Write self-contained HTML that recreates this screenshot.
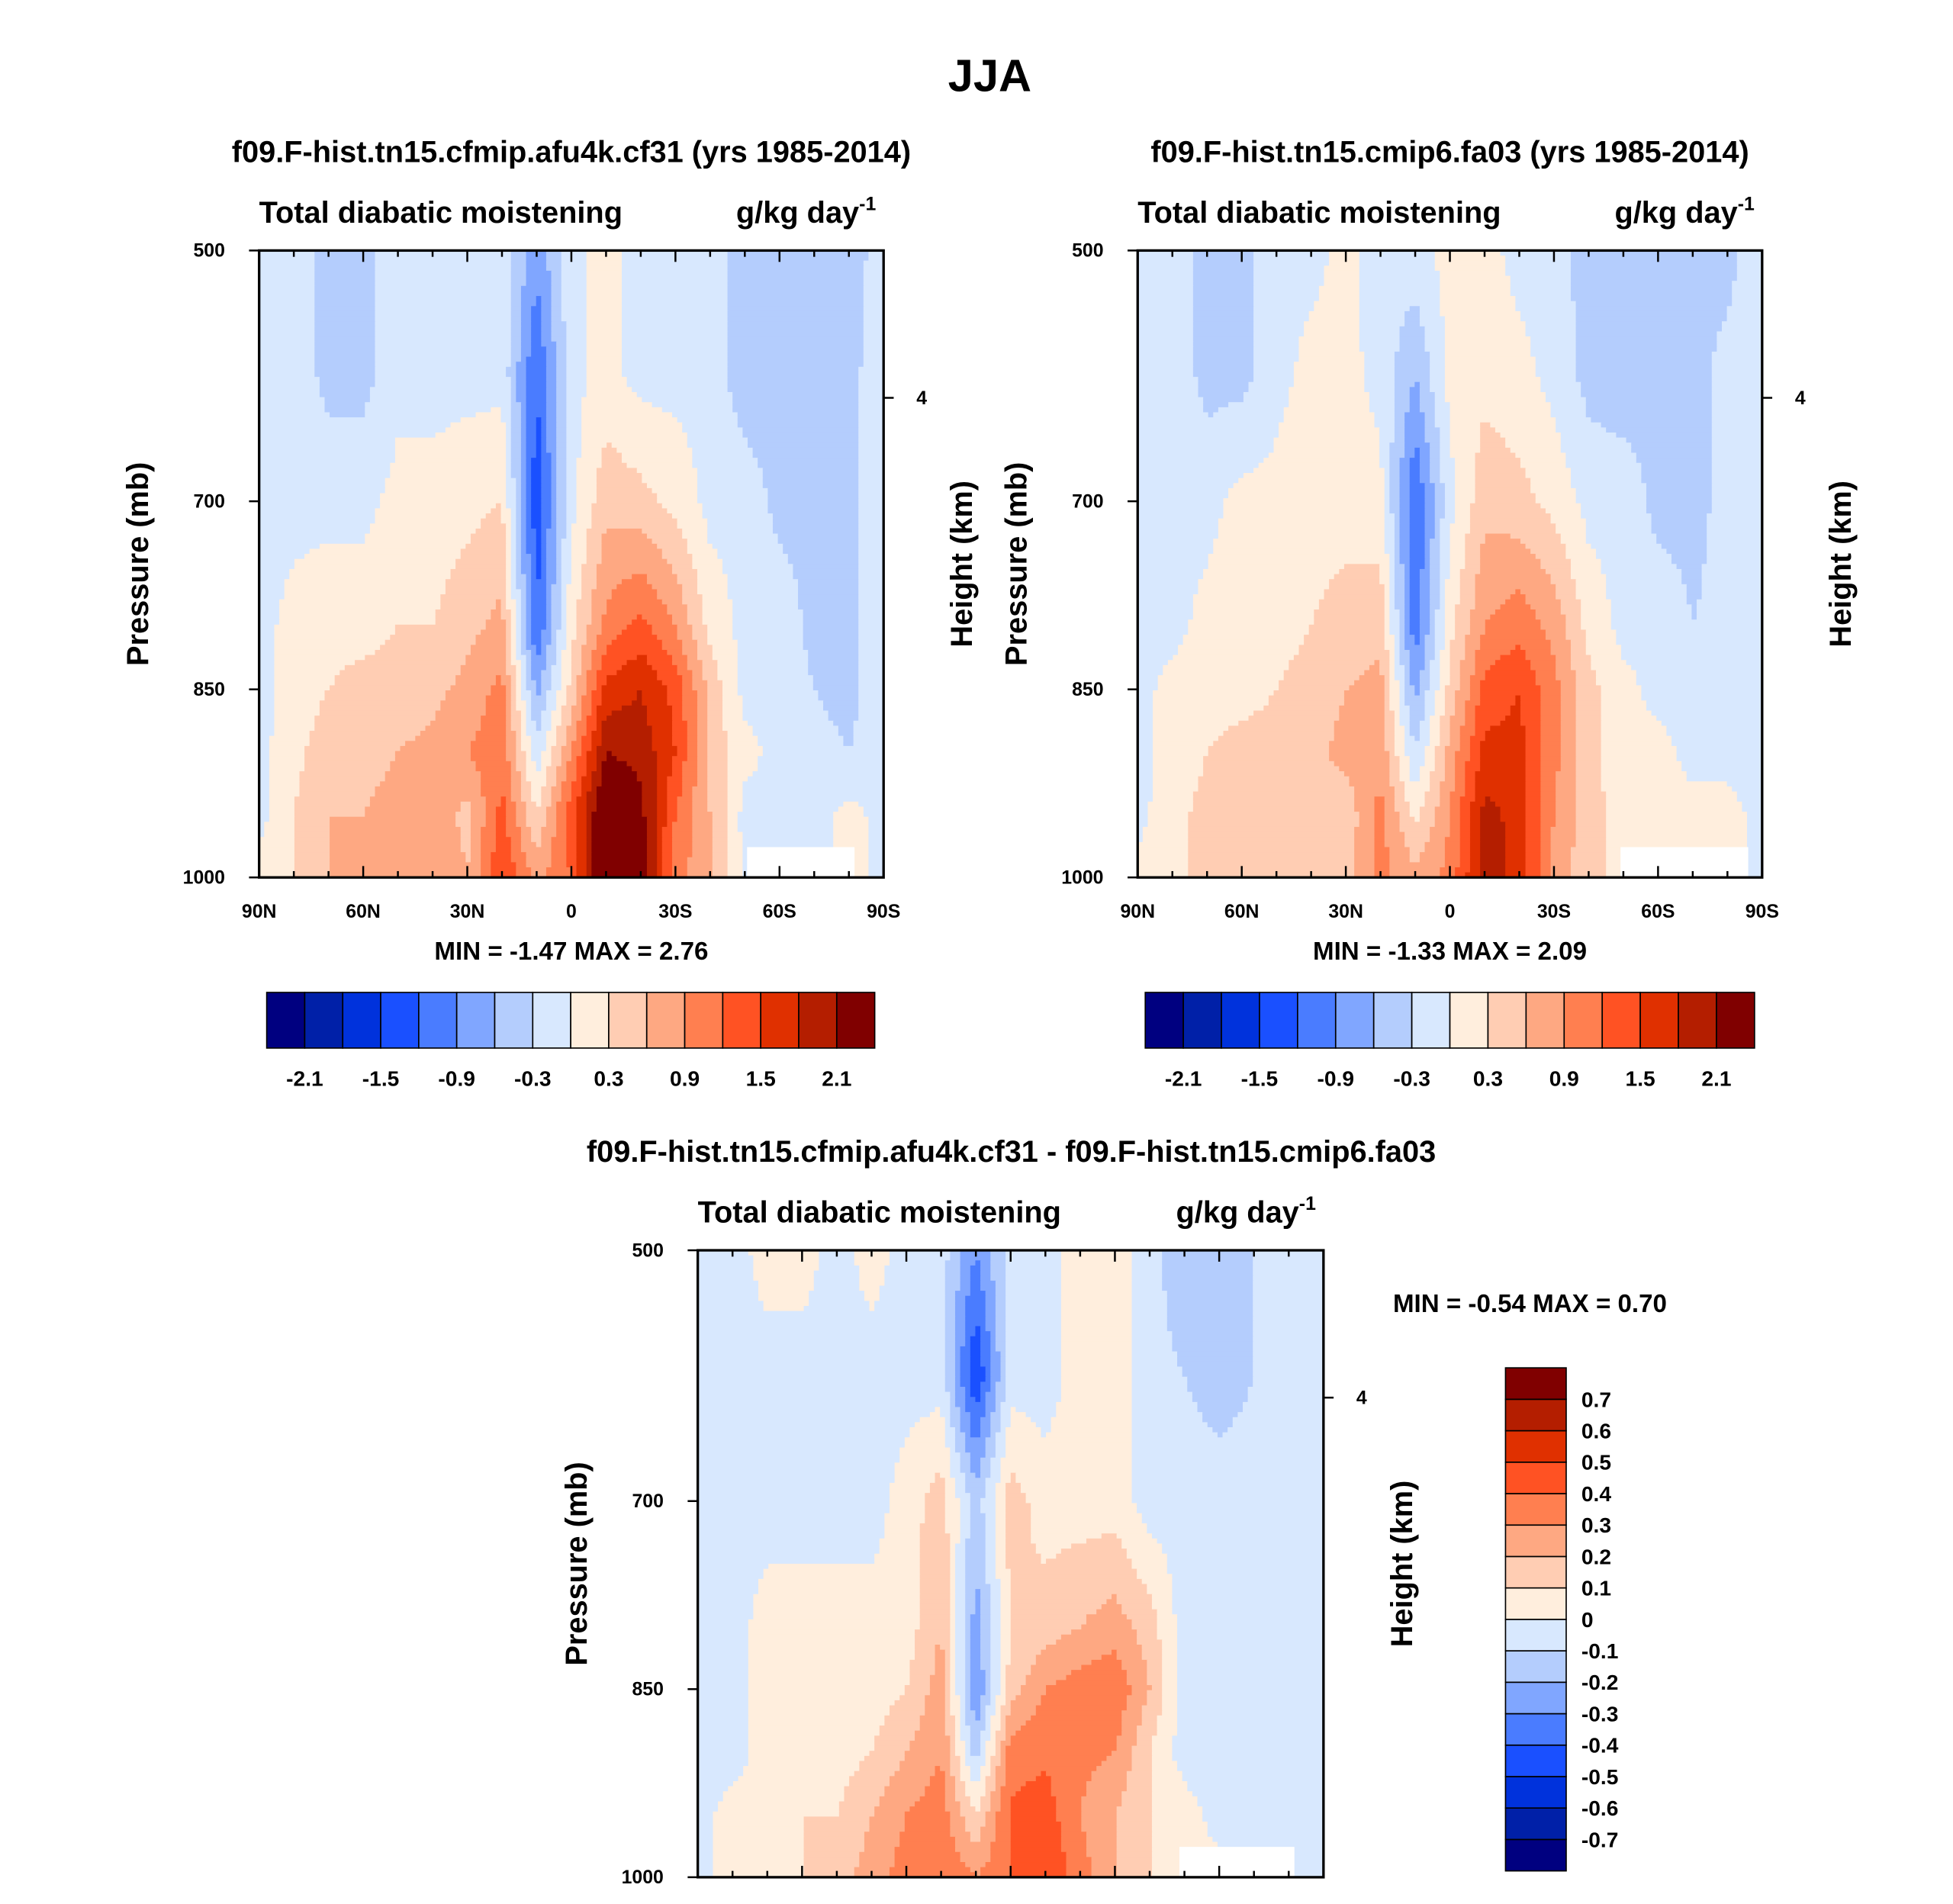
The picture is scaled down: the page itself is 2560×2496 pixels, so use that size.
<!DOCTYPE html>
<html><head><meta charset="utf-8">
<style>
html,body{margin:0;padding:0;background:#fff;}
svg{display:block;}
text{font-family:"Liberation Sans",sans-serif;font-weight:bold;fill:#000;}
</style></head>
<body>
<svg id="chart" width="2560" height="2496" viewBox="0 0 1545 1506" xmlns="http://www.w3.org/2000/svg">
<rect width="1545" height="1506" fill="#fff"/>
<text x="783" y="72" font-size="36" text-anchor="middle">JJA</text>
<g id="root"></g>
</svg>
<script>
const lats = [90,80,70,60,50,40,30,20,10,0,-10,-20,-30,-40,-50,-60,-70,-80,-90];
const plevs = [500,600,700,800,850,900,950,1000];
const field1 = [
[-0.1,-0.1,-0.4,-0.4,-0.1,-0.1,-0.2,-0.1,-0.8,-0.1,0.1,-0.1,-0.1,-0.1,-0.5,-0.5,-0.5,-0.5,-0.1],
[-0.1,-0.1,-0.4,-0.4,-0.1,-0.1,-0.1,-0.1,-1.2,-0.1,0.1,-0.1,-0.1,-0.1,-0.5,-0.5,-0.5,-0.4,-0.1],
[-0.1,-0.1,-0.1,-0.1,0.1,0.1,0.2,0.3,-1.4,-0.1,0.5,0.4,0.2,-0.1,-0.1,-0.4,-0.4,-0.4,-0.1],
[-0.1,0.1,0.2,0.2,0.3,0.3,0.5,0.7,-1.2,0.2,1.0,1.3,0.9,0.2,-0.1,-0.1,-0.4,-0.4,-0.1],
[-0.1,0.1,0.3,0.4,0.4,0.5,0.7,1.0,-0.7,0.4,1.6,1.8,1.4,0.5,-0.1,-0.1,-0.3,-0.4,-0.1],
[-0.1,0.2,0.5,0.5,0.6,0.7,0.9,1.1,-0.2,0.9,2.1,2.0,1.5,0.5,0.1,-0.1,-0.2,-0.3,-0.1],
[-0.1,0.3,0.6,0.6,0.7,0.8,0.5,1.3,0.3,1.4,2.5,2.2,1.2,0.6,-0.1,-0.1,-0.1,0.1,-0.1],
[0.1,0.3,0.6,0.7,0.8,0.9,0.6,1.5,0.8,1.2,2.7,2.4,1.0,0.7,-0.1,-0.1,-0.1,0.1,-0.1]];
const field2 = [
[-0.1,-0.1,-0.4,-0.4,-0.1,-0.1,0.1,-0.2,-0.1,0.1,0.1,-0.1,-0.1,-0.5,-0.5,-0.5,-0.4,-0.4,-0.1],
[-0.1,-0.1,-0.4,-0.4,-0.1,0.1,0.1,-0.1,-0.6,0.1,0.2,0.1,-0.1,-0.4,-0.5,-0.4,-0.4,-0.2,-0.1],
[-0.1,-0.1,-0.1,0.1,0.1,0.2,0.2,0.1,-1.2,-0.1,0.5,0.4,0.2,-0.1,-0.1,-0.4,-0.4,-0.2,-0.1],
[-0.1,-0.1,0.1,0.2,0.2,0.3,0.4,0.5,-1.1,0.2,0.9,1.1,0.8,0.2,-0.1,-0.1,-0.3,-0.2,-0.1],
[-0.1,0.1,0.2,0.2,0.3,0.4,0.6,0.7,-0.7,0.4,1.3,1.5,1.0,0.4,0.1,-0.1,-0.1,-0.1,-0.1],
[-0.1,0.1,0.3,0.4,0.4,0.5,0.7,0.8,-0.3,0.7,1.6,1.6,1.0,0.4,0.1,0.1,-0.1,-0.1,-0.1],
[-0.1,0.2,0.4,0.5,0.5,0.6,0.4,1.0,0.2,0.9,1.9,1.7,0.9,0.4,0.2,0.1,0.1,0.1,-0.1],
[0.1,0.2,0.4,0.4,0.5,0.6,0.5,1.0,0.7,1.0,2.0,1.7,0.8,0.4,0.2,0.1,0.1,0.1,-0.1]];
const field3 = [
[-0.05,-0.05,0.05,0.05,-0.05,0.05,-0.05,-0.05,-0.3,-0.05,-0.05,0.05,0.05,-0.05,-0.2,-0.2,-0.1,-0.05,-0.05],
[-0.05,-0.05,-0.05,-0.05,-0.05,-0.05,-0.05,-0.05,-0.5,-0.05,-0.05,0.05,0.05,-0.05,-0.1,-0.15,-0.1,-0.05,-0.05],
[-0.05,-0.05,-0.05,-0.05,-0.05,-0.05,0.05,0.15,-0.15,0.15,0.05,0.05,0.05,-0.05,-0.05,-0.05,-0.05,-0.05,-0.05],
[-0.05,-0.05,0.05,0.05,0.05,0.05,0.05,0.2,-0.25,0.1,0.15,0.2,0.25,0.15,-0.05,-0.05,-0.05,-0.05,-0.05],
[-0.05,-0.05,0.05,0.05,0.05,0.05,0.1,0.25,-0.3,0.15,0.3,0.35,0.38,0.2,-0.05,-0.05,-0.05,-0.05,-0.05],
[-0.05,-0.05,0.05,0.05,0.05,0.1,0.2,0.3,-0.15,0.35,0.38,0.33,0.3,0.1,-0.05,-0.05,-0.05,-0.05,-0.05],
[-0.05,0.05,0.05,0.1,0.1,0.2,0.3,0.35,0.1,0.42,0.45,0.3,0.2,0.1,0.05,-0.05,-0.1,-0.05,-0.05],
[-0.05,0.05,0.05,0.1,0.15,0.25,0.35,0.4,0.3,0.4,0.5,0.35,0.2,0.1,0.05,0.05,-0.05,-0.05,-0.05]];
const levelsAbs = [-2.1,-1.8,-1.5,-1.2,-0.9,-0.6,-0.3,0,0.3,0.6,0.9,1.2,1.5,1.8,2.1];
const levelsDiff = [-0.7,-0.6,-0.5,-0.4,-0.3,-0.2,-0.1,0,0.1,0.2,0.3,0.4,0.5,0.6,0.7];
const absLabels = ["-2.1","-1.5","-0.9","-0.3","0.3","0.9","1.5","2.1"];
const diffLabels = ["0.7","0.6","0.5","0.4","0.3","0.2","0.1","0","-0.1","-0.2","-0.3","-0.4","-0.5","-0.6","-0.7"];
const latTicks = [90,60,30,0,-30,-60,-90];
const latTickLabels = ["90N","60N","30N","0","30S","60S","90S"];
const pTicks = [500,700,850,1000];
const colors = ["#000080","#0020a8","#0032dc","#1a50ff","#4a7cff","#80a6ff","#b4cdfd","#d8e8fe","#ffeedd","#ffcdb3","#fea882","#ff7f50","#ff5223","#e03000","#b41e00","#800000"];

const NS="http://www.w3.org/2000/svg";
const root=document.getElementById('root');
function mk(tag,attrs,parent,txt){const e=document.createElementNS(NS,tag);for(const k in attrs)e.setAttribute(k,attrs[k]);if(txt!==undefined)e.textContent=txt;(parent||root).appendChild(e);return e;}
function colorFor(v,lv){let i=0;while(i<lv.length&&v>=lv[i])i++;return colors[i];}

function sample(field,lat,p){
  let li=0;while(li<lats.length-2&&lat<lats[li+1])li++;
  const tl=(lats[li]-lat)/(lats[li]-lats[li+1]);
  let pi=0;while(pi<plevs.length-2&&p>plevs[pi+1])pi++;
  const tp=(p-plevs[pi])/(plevs[pi+1]-plevs[pi]);
  const a=field[pi][li],b=field[pi][li+1],c=field[pi+1][li],d=field[pi+1][li+1];
  return (a*(1-tl)+b*tl)*(1-tp)+(c*(1-tl)+d*tl)*tp;
}

function panel(cfg){
  const {x0,y0,w,h,field,levels,name,white}=cfg;
  const g=mk('g',{});
  
  
  const xs=lat=>x0+(90-lat)/180*w;
  const ys=p=>y0+(p-500)/500*h;
  const N=124,cw=w/N,ch=h/N;
  for(let j=0;j<N;j++){
    const p=500+(j+0.5)/N*500;
    let start=0,cur=null;
    for(let i=0;i<=N;i++){
      let col=null;
      if(i<N){const lat=90-(i+0.5)/N*180;col=colorFor(sample(field,lat,p),levels);}
      if(col!==cur){
        if(cur!==null){const r=mk('rect',{x:(x0+start*cw).toFixed(2),y:(y0+j*ch).toFixed(2),width:((i-start)*cw+0.6).toFixed(2),height:(ch+0.6).toFixed(2),fill:cur},g);
          
          }
        cur=col;start=i;
      }
    }
  }
  const wr=mk('rect',{x:white[0],y:white[1],width:white[2],height:white[3],fill:'#fff'},g);
  
  
  const fr=mk('rect',{x:x0,y:y0,width:w,height:h,fill:'none',stroke:'#000','stroke-width':2},g);
  
  
  for(let lat=90;lat>=-90;lat-=10){
    const x=xs(lat);const major=lat%30===0;const L=major?9:5;
    mk('line',{x1:x,y1:y0+h,x2:x,y2:y0+h-L,stroke:'#000','stroke-width':1.5},g);
    mk('line',{x1:x,y1:y0,x2:x,y2:y0+L,stroke:'#000','stroke-width':1.5},g);
  }
  latTicks.forEach((lat,k)=>{
    const t=mk('text',{x:xs(lat),y:y0+h+32,'font-size':15,'text-anchor':'middle'},g,latTickLabels[k]);
    
    
  });
  pTicks.forEach(p=>{
    const y=ys(p);
    mk('line',{x1:x0,y1:y,x2:x0-8,y2:y,stroke:'#000','stroke-width':1.5},g);
    const t=mk('text',{x:x0-27,y:y+5,'font-size':15,'text-anchor':'end'},g,String(p));
    
    
  });
  const yh=y0+h*0.235;
  mk('line',{x1:x0+w,y1:yh,x2:x0+w+8,y2:yh,stroke:'#000','stroke-width':1.5},g);
  const ht=mk('text',{x:x0+w+26,y:yh+5,'font-size':15},g,'4');
  
  
  const yt=mk('text',{x:0,y:0,'font-size':24,'text-anchor':'middle',transform:`translate(${x0-88},${y0+h/2}) rotate(-90)`},g,'Pressure (mb)');
  
  
  const rt=mk('text',{x:0,y:0,'font-size':24,'text-anchor':'middle',transform:`translate(${x0+w+70},${y0+h/2}) rotate(-90)`},g,'Height (km)');
  
  
  const lt=mk('text',{x:x0,y:y0-22,'font-size':24},g,'Total diabatic moistening');
  
  
  const ut=mk('text',{x:x0+w-6,y:y0-22,'font-size':24,'text-anchor':'end'},g);
  
  
  ut.innerHTML='g/kg day<tspan font-size="15" dy="-10">-1</tspan>';
  const st=mk('text',{x:cfg.titleX,y:cfg.titleY,'font-size':24,'text-anchor':'middle'},g,cfg.title);
  
  
  const mm=mk('text',{x:cfg.mmX,y:cfg.mmY,'font-size':20,'text-anchor':cfg.mmAnchor||'middle','xml:space':'preserve'},g,cfg.mm);
  
  
}

function hbar(x0,y0,w,h){
  const g=mk('g',{});
  
  
  const bw=w/colors.length;
  colors.forEach((c,i)=>{const r=mk('rect',{x:x0+i*bw,y:y0,width:bw,height:h,fill:c,stroke:'#000','stroke-width':1},g);
    
    });
  absLabels.forEach((l,k)=>{const t=mk('text',{x:x0+(1+2*k)*bw,y:y0+h+30,'font-size':17,'text-anchor':'middle'},g,l);
    
    });
}
function vbar(x0,y0,w,h){
  const g=mk('g',{});
  
  
  const bh=h/colors.length;
  colors.forEach((c,i)=>{const r=mk('rect',{x:x0,y:y0+(colors.length-1-i)*bh,width:w,height:bh,fill:c,stroke:'#000','stroke-width':1},g);
    
    });
  diffLabels.forEach((l,k)=>{const t=mk('text',{x:x0+w+12,y:y0+(k+1)*bh+6,'font-size':17},g,l);
    
    });
}

panel({x0:205,y0:198,w:494,h:496,field:field1,levels:levelsAbs,name:'panel-cf31',white:[591,670,85,24],
  title:'f09.F-hist.tn15.cfmip.afu4k.cf31 (yrs 1985-2014)',titleX:452,titleY:128,mm:'MIN =  -1.47  MAX =   2.76',mmX:452,mmY:759});
panel({x0:900,y0:198,w:494,h:496,field:field2,levels:levelsAbs,name:'panel-fa03',white:[1282,670,101,24],
  title:'f09.F-hist.tn15.cmip6.fa03 (yrs 1985-2014)',titleX:1147,titleY:128,mm:'MIN =  -1.33  MAX =   2.09',mmX:1147,mmY:759});
panel({x0:552,y0:989,w:495,h:496,field:field3,levels:levelsDiff,name:'panel-difference',white:[933,1461,91,24],
  title:'f09.F-hist.tn15.cfmip.afu4k.cf31 - f09.F-hist.tn15.cmip6.fa03',titleX:800,titleY:919,mm:'MIN =  -0.54  MAX =   0.70',mmX:1102,mmY:1038,mmAnchor:'start'});
hbar(211,785,481,44);
hbar(906,785,482,44);
vbar(1191,1082,48,398);
</script>
</body></html>
